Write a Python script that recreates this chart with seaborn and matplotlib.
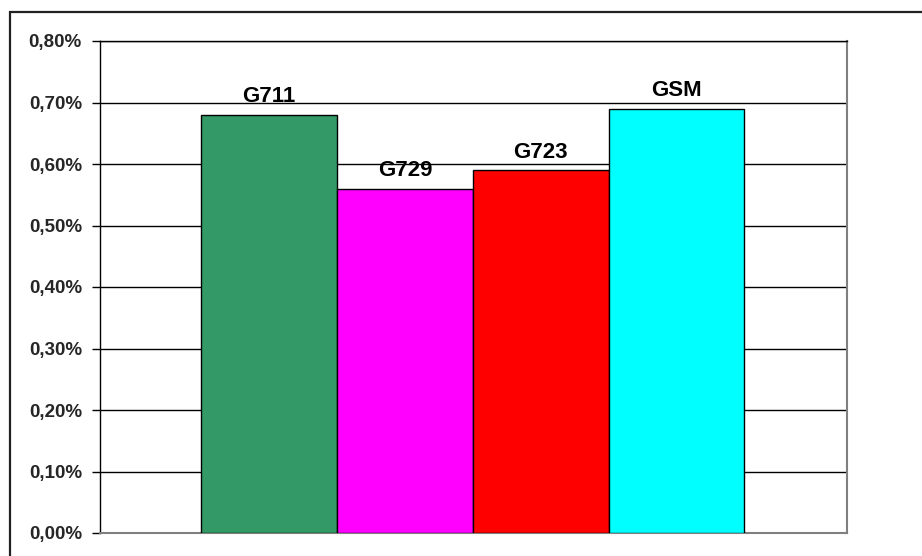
import matplotlib
matplotlib.use("Agg")
import matplotlib.pyplot as plt
import seaborn as sns
import pandas as pd
from matplotlib.patches import Rectangle
from matplotlib.ticker import FixedLocator, FuncFormatter

codecs = ["G711", "G729", "G723", "GSM"]
values = [0.68, 0.56, 0.59, 0.69]
colors = ["#339966", "#FF00FF", "#FF0000", "#00FFFF"]
yticks = [0.0, 0.1, 0.2, 0.3, 0.4, 0.5, 0.6, 0.7, 0.8]

sns.set_style("white")
plt.rcParams["font.family"] = ["Liberation Sans", "DejaVu Sans"]

df = pd.DataFrame({"codec": codecs, "value": values})

fig = plt.figure(figsize=(9.22, 5.56), dpi=100)
ax = fig.add_axes([100 / 922, (556 - 533) / 556, (847 - 100) / 922, (533 - 41) / 556])
ax.set_zorder(1)

sns.barplot(data=df, x="codec", y="value", hue="codec", palette=colors,
            width=1.0, edgecolor="black", linewidth=1.0, saturation=1.0,
            legend=False, ax=ax, zorder=3)

ax.set_xlim(-1.245, 4.255)
ax.set_ylim(0, 0.8)
ax.yaxis.set_major_locator(FixedLocator(yticks))
ax.yaxis.set_major_formatter(FuncFormatter(lambda v, p: f"{v:.2f}%".replace(".", ",")))
ax.grid(axis="y", color="black", linewidth=1.0, zorder=0)
ax.set_axisbelow(True)
ax.set_xlabel("")
ax.set_ylabel("")
ax.set_xticks([])
ax.tick_params(axis="y", which="major", direction="out", length=6, width=1,
               color="black", left=True, labelsize=13.5, pad=7)
for lab in ax.get_yticklabels():
    lab.set_fontweight("bold")

ax.spines["left"].set_color("black")
ax.spines["left"].set_linewidth(1.0)
ax.spines["top"].set_color("black")
ax.spines["top"].set_linewidth(1.0)
ax.spines["right"].set_color("#808080")
ax.spines["right"].set_linewidth(1.5)
ax.spines["bottom"].set_color("#808080")
ax.spines["bottom"].set_linewidth(1.5)

for i, (c, v) in enumerate(zip(codecs, values)):
    ax.annotate(c, xy=(i, v), xytext=(0, 9), textcoords="offset points",
                ha="center", va="baseline", fontsize=16, fontweight="bold",
                color="black", zorder=5)

# outer chart border (top and left visible, rest cropped)
fig.patches.append(Rectangle((10 / 922, -0.1), 1.2, (556 - 12) / 556 + 0.1,
                             transform=fig.transFigure, fill=False,
                             edgecolor="#222222", linewidth=1.6, zorder=0))

fig.savefig("out.png", dpi=100)
